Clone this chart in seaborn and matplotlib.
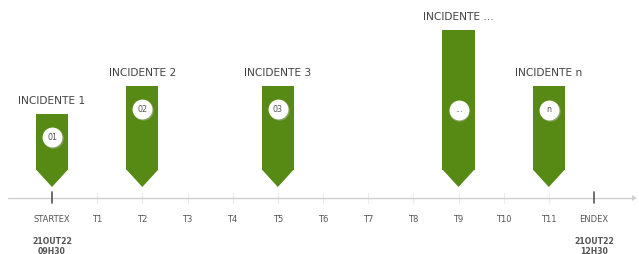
import numpy as np
import pandas as pd
import matplotlib
matplotlib.use("Agg")
import matplotlib.pyplot as plt
import seaborn as sns

# ---- data ----
tick_labels = ["STARTEX", "T1", "T2", "T3", "T4", "T5", "T6", "T7", "T8", "T9", "T10", "T11", "ENDEX"]
incident_names = ["INCIDENTE 1", "INCIDENTE 2", "INCIDENTE 3", "INCIDENTE ...", "INCIDENTE n"]
incident_badges = ["01", "02", "03", "...", "n"]
incident_pos = [0, 2, 5, 9, 11]            # index on the timeline
incident_top = [84, 112, 112, 168, 112]     # height of the marker top above the axis
badge_y = [61, 89, 89, 88, 88]
start_date = ["21OUT22", "09H30"]
end_date = ["21OUT22", "12H30"]

GREEN = "#578a14"
TXT = "#555555"

sns.set_style("white")
plt.rcParams["font.family"] = ["DejaVu Sans"]

W, H = 639, 254
fig = plt.figure(figsize=(W / 100, H / 100), dpi=100)
ax = fig.add_axes([0, 0, 1, 1])

unit = (594 - 52) / 12.0          # px per timeline step
rect_bottom = 28
tip_y = 11
half_w = 16 / unit

df = pd.DataFrame({"pos": incident_pos,
                   "h": [t - rect_bottom for t in incident_top]})
min_gap = np.min(np.diff(sorted(incident_pos)))
sns.barplot(data=df, x="pos", y="h", native_scale=True, width=2 * half_w / min_gap,
            color=GREEN, saturation=1, bottom=rect_bottom, linewidth=0, ax=ax)

# arrow tips
for p in incident_pos:
    ax.fill([p - half_w, p + half_w, p], [rect_bottom + 0.5, rect_bottom + 0.5, tip_y],
            color=GREEN, lw=0, zorder=3)

# badges
ax.scatter(np.array(incident_pos) + 0.02, np.array(badge_y) - 1.0, s=215, color="#bbbbbb",
           alpha=0.5, lw=0, zorder=4)
ax.scatter(incident_pos, badge_y, s=205, color="white", lw=0, zorder=5)
for p, y, b in zip(incident_pos, badge_y, incident_badges):
    ax.text(p, y, b, ha="center", va="center", fontsize=5.8, color=TXT, zorder=6)

# titles
for p, t, n in zip(incident_pos, incident_top, incident_names):
    ax.text(p, t + 13, n, ha="center", va="center", fontsize=7.7, color="#444444")

# timeline axis
x0 = (8 - 52) / unit
x1 = (632 - 52) / unit
ax.plot([x0, x1], [0, 0], color="#cfcfcf", lw=1, zorder=1)
ax.fill([x1, x1, x1 + 5 / unit], [3, -3, 0], color="#cfcfcf", lw=0)

for i, lab in enumerate(tick_labels):
    if i in (0, len(tick_labels) - 1):
        ax.plot([i, i], [-5, 6], color="#555555", lw=1.2, zorder=2)
    else:
        ax.plot([i, i], [-5, 5], color="#ececec", lw=0.8, zorder=0)
    ax.text(i, -21, lab, ha="center", va="center", fontsize=6, color=TXT)

for i, lines in ((0, start_date), (len(tick_labels) - 1, end_date)):
    ax.text(i, -44, lines[0], ha="center", va="center", fontsize=5.6, color=TXT, fontweight="bold")
    ax.text(i, -53, lines[1], ha="center", va="center", fontsize=5.6, color=TXT, fontweight="bold")

ax.set_xlim(-52 / unit, (W - 52) / unit)
ax.set_ylim(198 - H, 198)
ax.set_axis_off()

fig.savefig("out.png", dpi=100)
